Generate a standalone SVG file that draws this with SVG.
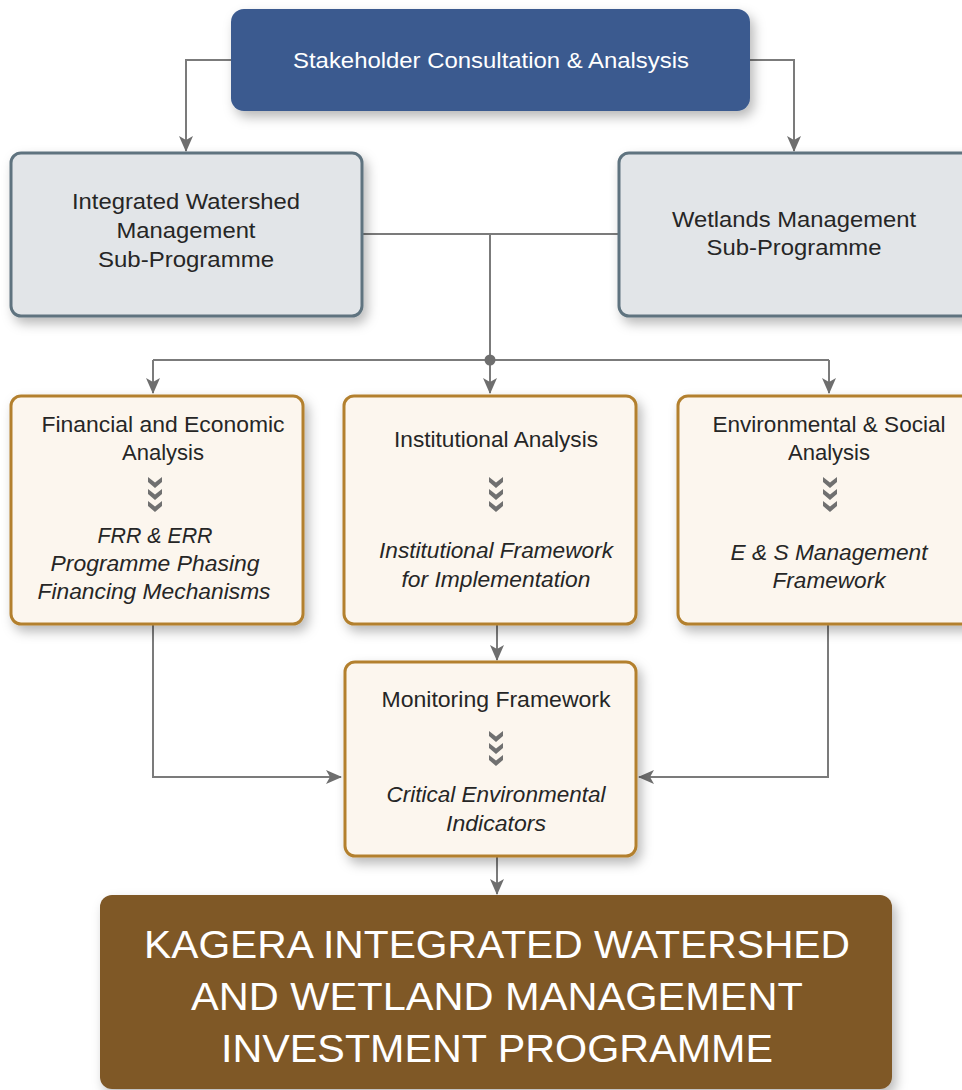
<svg xmlns="http://www.w3.org/2000/svg" width="962" height="1090" viewBox="0 0 962 1090">
  <defs>
    <filter id="shadow" x="-10%" y="-10%" width="130%" height="140%">
      <feDropShadow dx="4" dy="6" stdDeviation="6" flood-color="#000" flood-opacity="0.28"/>
    </filter>
    <marker id="arrow" markerUnits="userSpaceOnUse" markerWidth="16" markerHeight="14" refX="15" refY="7" orient="auto" viewBox="0 0 16 14">
      <path d="M0,0 L16,7 L0,14 L4,7 Z" fill="#6e6e6e"/>
    </marker>
    <!-- three stacked chevrons pointing down -->
    <g id="chevrons" fill="#707070">
      <polygon points="-7,0 0,5.5 7,0 7,5 0,11 -7,5"/>
      <polygon points="-7,12 0,17.5 7,12 7,17 0,23 -7,17"/>
      <polygon points="-7,24 0,29.5 7,24 7,29 0,35 -7,29"/>
    </g>
  </defs>
  <style>
    text { font-family: "Liberation Sans", Arial, Helvetica, sans-serif; text-anchor: middle; }
    .label { font-size: 22px; fill: #262626; }
    .ital { font-size: 22px; fill: #262626; font-style: italic; }
    .white { font-size: 22px; fill: #ffffff; }
    .big { font-size: 39px; fill: #ffffff; }
    .sub { fill: #e2e5e8; stroke: #5e737f; stroke-width: 3; }
    .step { fill: #fcf6ee; stroke: #b3802f; stroke-width: 3; }
    .conn { fill: none; stroke: #7b7b7b; stroke-width: 2; }
  </style>

  <rect width="962" height="1090" fill="#ffffff"/>

  <!-- connectors -->
  <g id="connectors">
    <path class="conn" d="M231,60 H186 V151" marker-end="url(#arrow)"/>
    <path class="conn" d="M750,60 H794 V151" marker-end="url(#arrow)"/>
    <path class="conn" d="M362,234 H619"/>
    <path class="conn" d="M490,234 V393" marker-end="url(#arrow)"/>
    <path class="conn" d="M153,360 H829"/>
    <path class="conn" d="M153,360 V393" marker-end="url(#arrow)"/>
    <path class="conn" d="M829,360 V393" marker-end="url(#arrow)"/>
    <circle cx="490" cy="360" r="5.5" fill="#6e6e6e"/>
    <path class="conn" d="M497,624 V660" marker-end="url(#arrow)"/>
    <path class="conn" d="M153,624 V777 H341" marker-end="url(#arrow)"/>
    <path class="conn" d="M828,624 V777 H639" marker-end="url(#arrow)"/>
    <path class="conn" d="M497,856 V894" marker-end="url(#arrow)"/>
  </g>

  <!-- top: stakeholder consultation -->
  <g id="stakeholder">
    <rect x="231" y="9" width="519" height="102" rx="13" fill="#3a5a8f" filter="url(#shadow)"/>
    <text class="white" x="491" y="68" textLength="396" lengthAdjust="spacingAndGlyphs">Stakeholder Consultation &amp; Analsysis</text>
  </g>

  <!-- sub-programmes -->
  <g id="watershed">
    <rect class="sub" x="11" y="153" width="351" height="163" rx="10" filter="url(#shadow)"/>
    <text class="label" x="186" y="209" textLength="228" lengthAdjust="spacingAndGlyphs">Integrated Watershed</text>
    <text class="label" x="186" y="238" textLength="139" lengthAdjust="spacingAndGlyphs">Management</text>
    <text class="label" x="186" y="267" textLength="176" lengthAdjust="spacingAndGlyphs">Sub-Programme</text>
  </g>

  <g id="wetlands">
    <rect class="sub" x="619" y="153" width="360" height="163" rx="10" filter="url(#shadow)"/>
    <text class="label" x="794" y="227" textLength="244" lengthAdjust="spacingAndGlyphs">Wetlands Management</text>
    <text class="label" x="794" y="255" textLength="175" lengthAdjust="spacingAndGlyphs">Sub-Programme</text>
  </g>

  <!-- analyses -->
  <g id="financial">
    <rect class="step" x="11" y="396" width="292" height="228" rx="10" filter="url(#shadow)"/>
    <text class="label" x="163" y="432" textLength="243" lengthAdjust="spacingAndGlyphs">Financial and Economic</text>
    <text class="label" x="163" y="460" textLength="82" lengthAdjust="spacingAndGlyphs">Analysis</text>
    <use href="#chevrons" x="155" y="477"/>
    <text class="ital" x="155" y="543" textLength="115" lengthAdjust="spacingAndGlyphs">FRR &amp; ERR</text>
    <text class="ital" x="155" y="571" textLength="209" lengthAdjust="spacingAndGlyphs">Programme Phasing</text>
    <text class="ital" x="154" y="599" textLength="233" lengthAdjust="spacingAndGlyphs">Financing Mechanisms</text>
  </g>

  <g id="institutional">
    <rect class="step" x="344" y="396" width="292" height="228" rx="10" filter="url(#shadow)"/>
    <text class="label" x="496" y="447" textLength="204" lengthAdjust="spacingAndGlyphs">Institutional Analysis</text>
    <use href="#chevrons" x="496" y="477"/>
    <text class="ital" x="496" y="558" textLength="234" lengthAdjust="spacingAndGlyphs">Institutional Framework</text>
    <text class="ital" x="496" y="587" textLength="189" lengthAdjust="spacingAndGlyphs">for Implementation</text>
  </g>

  <g id="environmental">
    <rect class="step" x="678" y="396" width="300" height="228" rx="10" filter="url(#shadow)"/>
    <text class="label" x="829" y="432" textLength="233" lengthAdjust="spacingAndGlyphs">Environmental &amp; Social</text>
    <text class="label" x="829" y="460" textLength="82" lengthAdjust="spacingAndGlyphs">Analysis</text>
    <use href="#chevrons" x="830" y="477"/>
    <text class="ital" x="829" y="560" textLength="197" lengthAdjust="spacingAndGlyphs">E &amp; S Management</text>
    <text class="ital" x="829" y="588" textLength="113" lengthAdjust="spacingAndGlyphs">Framework</text>
  </g>

  <!-- monitoring -->
  <g id="monitoring">
    <rect class="step" x="345" y="662" width="291" height="194" rx="10" filter="url(#shadow)"/>
    <text class="label" x="496" y="707" textLength="229" lengthAdjust="spacingAndGlyphs">Monitoring Framework</text>
    <use href="#chevrons" x="496" y="731"/>
    <text class="ital" x="496" y="802" textLength="219" lengthAdjust="spacingAndGlyphs">Critical Environmental</text>
    <text class="ital" x="496" y="831" textLength="100" lengthAdjust="spacingAndGlyphs">Indicators</text>
  </g>

  <!-- programme -->
  <g id="programme">
    <rect x="100" y="895" width="792" height="194" rx="12" fill="#7f5828" filter="url(#shadow)"/>
    <text class="big" x="497" y="958" textLength="706" lengthAdjust="spacingAndGlyphs">KAGERA INTEGRATED WATERSHED</text>
    <text class="big" x="497" y="1010" textLength="612" lengthAdjust="spacingAndGlyphs">AND WETLAND MANAGEMENT</text>
    <text class="big" x="497" y="1062" textLength="552" lengthAdjust="spacingAndGlyphs">INVESTMENT PROGRAMME</text>
  </g>
</svg>
